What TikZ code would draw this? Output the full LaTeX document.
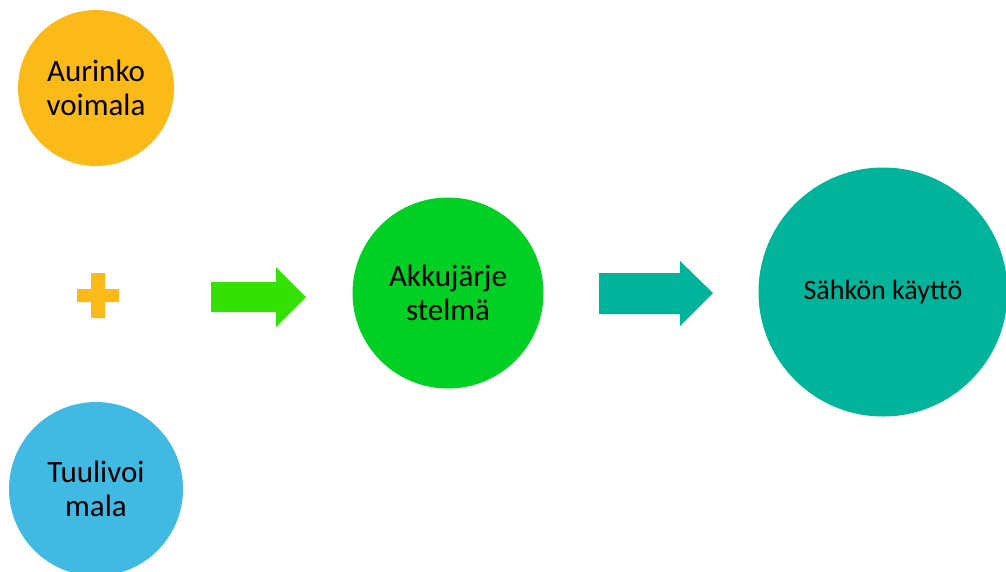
\documentclass[tikz,border=0pt]{standalone}
\usepackage{fontspec}
\setmainfont{Carlito}
\definecolor{sunorange}{HTML}{FBBA18}
\definecolor{windblue}{HTML}{40B9E3}
\definecolor{battgreen}{HTML}{00D023}
\definecolor{arrowgreen}{HTML}{33E200}
\definecolor{useteal}{HTML}{00B49C}
\begin{document}
\begin{tikzpicture}[x=1pt,y=-1pt,
  bubble/.style={circle,inner sep=0pt,align=center,text=black,
    font=\fontsize{31}{34}\selectfont}]
\useasboundingbox (0,0) rectangle (1006,571);
\node[bubble,fill=sunorange,minimum size=156pt] (sun) at (96,88) {Aurinko\\voimala};
\node[bubble,fill=windblue,minimum size=174pt] (wind) at (96,489) {Tuulivoi\\mala};
\node[bubble,fill=battgreen,minimum size=191pt] (batt) at (448,293) {Akkujärje\\stelmä};
\node[bubble,fill=useteal,minimum size=249pt,font=\fontsize{28}{32}\selectfont] (use) at (883,292) {Sähkön käyttö};
% plus sign
\fill[sunorange] (77,289) -- (91,289) -- (91,273) -- (105,273) -- (105,289) -- (119,289)
  -- (119,302) -- (105,302) -- (105,318) -- (91,318) -- (91,302) -- (77,302) -- cycle;
% green block arrow
\fill[arrowgreen] (211,282) -- (276,282) -- (276,267) -- (306,297) -- (276,327)
  -- (276,312) -- (211,312) -- cycle;
% teal block arrow
\fill[useteal] (599,273) -- (680,273) -- (680,261) -- (713,293) -- (680,326)
  -- (680,314) -- (599,314) -- cycle;
\end{tikzpicture}
\end{document}
